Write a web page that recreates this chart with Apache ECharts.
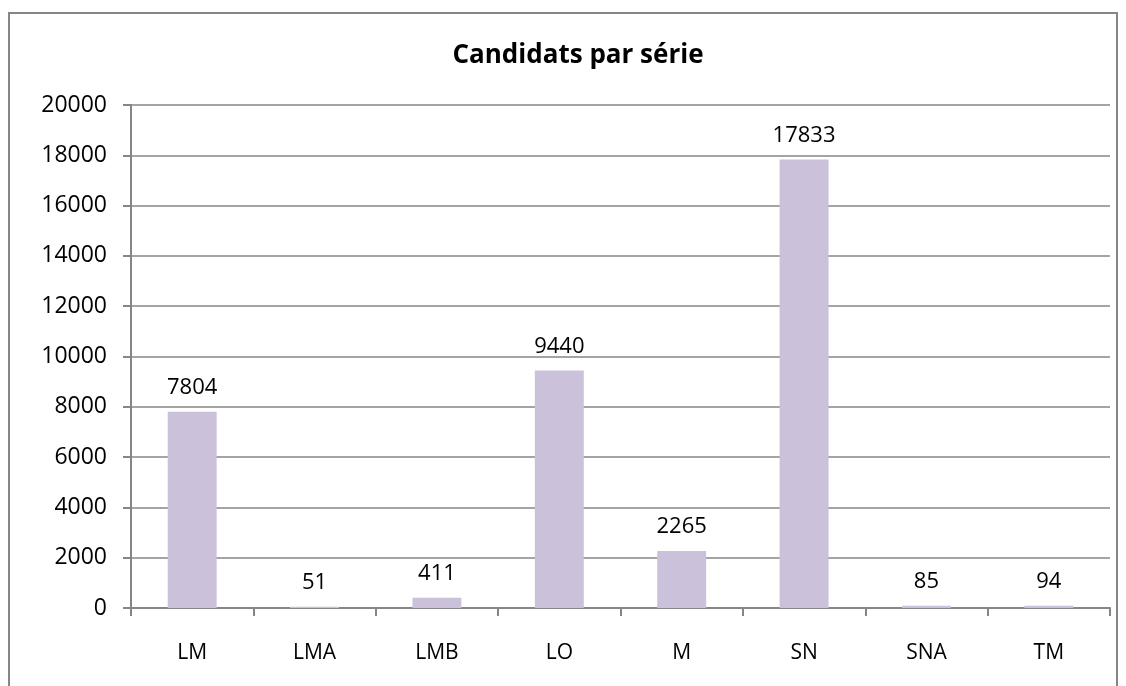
<!DOCTYPE html>
<html><head><meta charset="utf-8">
<script src="https://cdn.jsdelivr.net/npm/echarts@6/dist/echarts.min.js"></script>
<style>html,body{margin:0;padding:0;background:#fff}#c{width:1126px;height:686px}</style>
</head><body><div id="c"></div>
<script>
const categories = ['LM','LMA','LMB','LO','M','SN','SNA','TM'];
const values = [7804, 51, 411, 9440, 2265, 17833, 85, 94];
const yTicks = [0,2000,4000,6000,8000,10000,12000,14000,16000,18000,20000];
const FONT = 'Open Sans';
const chart = echarts.init(document.getElementById('c'), null, {renderer:'canvas'});
chart.setOption({
  animation:false,
  backgroundColor:'#fff',
  textStyle:{fontFamily:FONT},
  title:{text:'Candidats par série', left:573, top:38, textAlign:'center',
    textStyle:{fontFamily:FONT, fontWeight:'bold', fontSize:26, color:'#000'}},
  graphic:[{type:'rect', shape:{x:9, y:13, width:1108, height:700},
    style:{fill:'none', stroke:'#868686', lineWidth:2}, silent:true}],
  grid:{left:131, right:16, top:105, bottom:78},
  xAxis:{type:'category', data:categories,
    axisLine:{lineStyle:{color:'#868686', width:2}},
    axisTick:{show:true, alignWithLabel:false, length:8, inside:false, lineStyle:{color:'#868686', width:2}},
    axisLabel:{color:'#000', fontSize:21, margin:35, fontFamily:FONT}},
  yAxis:{type:'value', min:yTicks[0], max:yTicks[yTicks.length-1], interval:2000,
    axisLine:{show:true, lineStyle:{color:'#868686', width:2}},
    axisTick:{show:true, length:8, lineStyle:{color:'#868686', width:2}},
    splitLine:{lineStyle:{color:'#868686', width:1.5}},
    axisLabel:{color:'#000', fontSize:23, margin:24, fontFamily:FONT, formatter:v => String(v)}},
  series:[{type:'bar', data:values, barWidth:'40%',
    itemStyle:{color:'#CCC1DA'},
    label:{show:true, position:'top', distance:13, color:'#000', fontSize:22, fontFamily:FONT}}]
});
</script></body></html>
